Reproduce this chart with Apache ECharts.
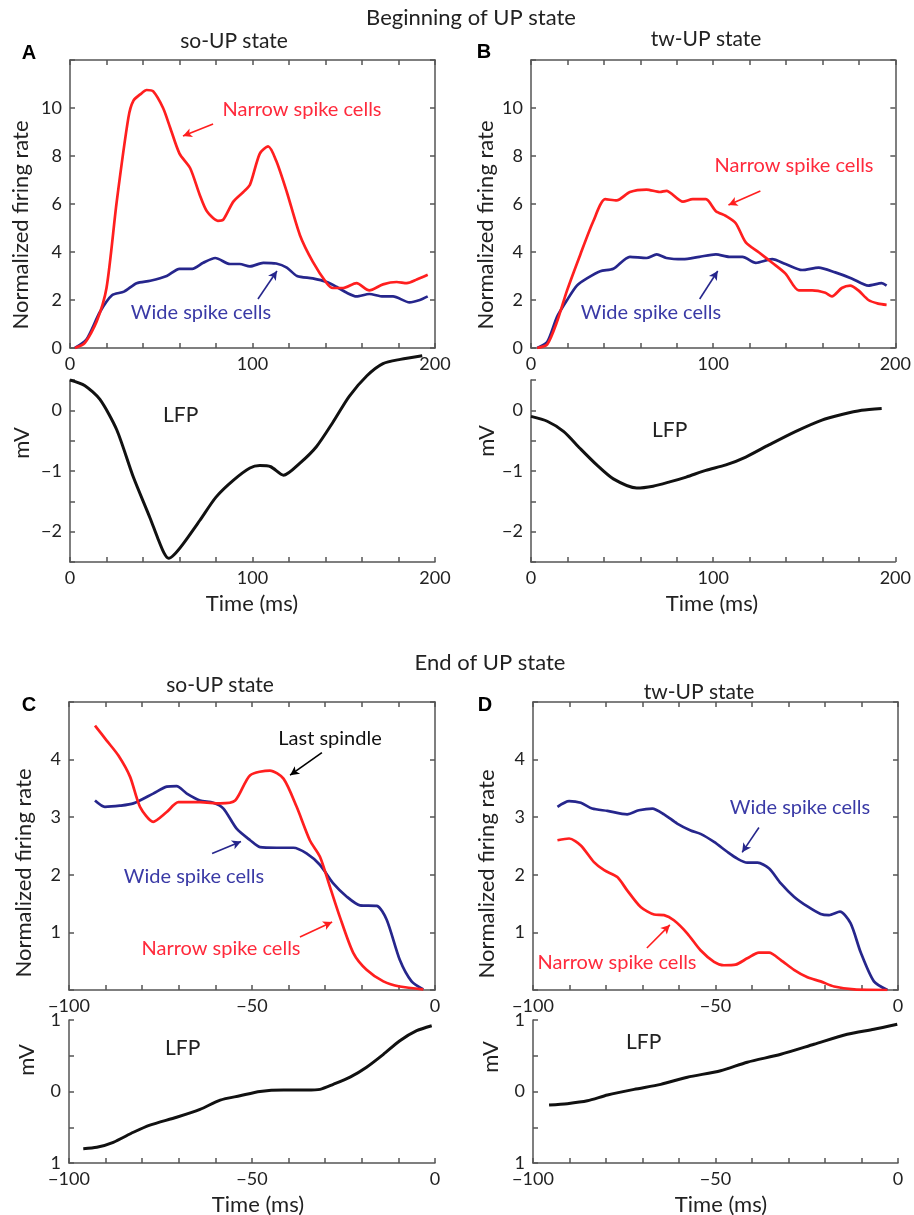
<!DOCTYPE html>
<html>
<head>
<meta charset="utf-8">
<script src="https://cdn.jsdelivr.net/npm/echarts@6/dist/echarts.min.js"></script>
<style>
html,body{margin:0;padding:0;background:#fff;}
#chart{width:914px;height:1215px;}
</style>
</head>
<body>
<div id="chart"></div>
<script>
// ---------- DATA ----------
// Panel A (so-UP, beginning)
const tNarrowA = [2.7, 8, 14.6, 20, 25.6, 32, 34.7, 39, 42, 45.5, 51, 54.8, 60, 65.8, 71, 75, 81, 84, 89.5, 95, 98.6, 104, 108.6, 113, 118.8, 126, 133, 140.7, 144, 149.6, 157, 164, 171.5, 179, 184.6, 190, 196];
const vNarrowA = [0, 0.2, 1.1, 2.5, 6.1, 9.6, 10.3, 10.6, 10.75, 10.7, 10.0, 9.2, 8.1, 7.5, 6.4, 5.7, 5.3, 5.35, 6.1, 6.5, 6.8, 8.1, 8.4, 7.8, 6.5, 4.7, 3.6, 2.7, 2.5, 2.5, 2.7, 2.4, 2.65, 2.75, 2.7, 2.85, 3.05];
const tWideA = [2.7, 9, 16.4, 23, 29.6, 36.5, 44, 53, 60, 67, 73, 79.6, 87.7, 93, 98.6, 105.9, 113, 118.8, 124.4, 133, 140.7, 146, 151.7, 157, 164, 171.5, 177, 186, 191.7, 196];
const vWideA = [0, 0.35, 1.5, 2.2, 2.35, 2.7, 2.8, 3.0, 3.3, 3.3, 3.55, 3.75, 3.5, 3.5, 3.4, 3.55, 3.52, 3.35, 3.0, 2.9, 2.75, 2.55, 2.3, 2.15, 2.25, 2.15, 2.15, 1.9, 2.0, 2.15];
const tLfpA = [0, 8, 16.4, 25.6, 34.7, 43.8, 48, 51.5, 54, 57, 62, 71, 80, 89.6, 98.6, 104, 110, 117, 126, 135, 144, 153, 162.7, 171.5, 181, 193];
const vLfpA = [0.5, 0.41, 0.18, -0.32, -1.1, -1.77, -2.1, -2.35, -2.44, -2.38, -2.2, -1.82, -1.43, -1.15, -0.95, -0.91, -0.93, -1.07, -0.87, -0.6, -0.2, 0.23, 0.57, 0.77, 0.84, 0.9];
// Panel B (tw-UP, beginning)
const tNarrowB = [3.4, 8.9, 14.3, 19.8, 27.1, 34.3, 40.7, 47, 54.3, 63.4, 70.7, 74.3, 83.4, 88.8, 96, 101.5, 107, 112.4, 117.9, 125.2, 132.4, 139.7, 147, 154.3, 161.6, 165.2, 170.6, 175.2, 179.7, 185.2, 190.6, 195.2];
const vNarrowB = [0, 0.15, 1.1, 2.4, 3.9, 5.3, 6.2, 6.15, 6.5, 6.6, 6.5, 6.55, 6.1, 6.2, 6.2, 5.7, 5.5, 5.2, 4.4, 3.98, 3.55, 3.1, 2.4, 2.4, 2.3, 2.15, 2.5, 2.6, 2.4, 2.0, 1.85, 1.8];
const tWideB = [3.4, 8.9, 14.3, 19.8, 25.2, 30.7, 38, 45.2, 54.3, 63.4, 69, 74.3, 83.4, 92.4, 101.5, 108.8, 116.1, 123.4, 132.4, 139.7, 148.8, 157.9, 167, 176, 185.2, 192.5, 195.2];
const vWideB = [0, 0.25, 1.3, 2.0, 2.6, 2.9, 3.2, 3.3, 3.8, 3.75, 3.9, 3.75, 3.7, 3.8, 3.9, 3.8, 3.8, 3.55, 3.7, 3.5, 3.25, 3.35, 3.15, 2.9, 2.6, 2.7, 2.6];
const tLfpB = [0, 8.9, 18, 27, 36.1, 45.2, 58, 67, 76.1, 85.2, 96, 107, 117.9, 130.6, 145.1, 159.7, 170.6, 181.5, 192.5];
const vLfpB = [-0.1, -0.18, -0.35, -0.63, -0.9, -1.13, -1.28, -1.25, -1.18, -1.1, -0.99, -0.9, -0.77, -0.57, -0.35, -0.16, -0.07, 0.0, 0.03];
// Panel C (so-UP, end)
const tNarrowC = [-92.9, -89.7, -86.5, -83.3, -80.6, -77, -73.3, -70.1, -64.2, -58.7, -54.6, -50.5, -45.1, -41.4, -37.8, -34.2, -31.4, -28.7, -26, -22.3, -18.7, -14.1, -9.6, -3.2];
const vNarrowC = [4.59, 4.33, 4.07, 3.7, 3.18, 2.92, 3.09, 3.26, 3.26, 3.24, 3.29, 3.73, 3.81, 3.67, 3.18, 2.6, 2.31, 1.79, 1.27, 0.64, 0.35, 0.15, 0.06, 0.01];
const tWideC = [-92.9, -90.2, -86.1, -82.4, -77, -73.3, -70.6, -67.8, -64.2, -60.6, -57.8, -54.2, -50.5, -47.8, -43.3, -38.7, -35.1, -31.4, -27.8, -24.1, -20.5, -15.9, -13.2, -9.6, -6.4, -3.2];
const vWideC = [3.29, 3.18, 3.2, 3.24, 3.41, 3.53, 3.54, 3.41, 3.29, 3.25, 3.15, 2.8, 2.6, 2.48, 2.47, 2.47, 2.37, 2.17, 1.85, 1.62, 1.47, 1.46, 1.22, 0.52, 0.15, 0.01];
const tLfpC = [-96.1, -92.4, -87.9, -82.4, -77.9, -70.6, -64.2, -58.7, -53.3, -47.8, -41.4, -35.1, -31.4, -27.8, -23.2, -18.7, -14.1, -9.6, -5, -0.9];
const vLfpC = [-0.8, -0.78, -0.71, -0.57, -0.47, -0.36, -0.25, -0.12, -0.06, 0.0, 0.02, 0.02, 0.03, 0.1, 0.2, 0.34, 0.52, 0.71, 0.85, 0.92];
// Panel D (tw-UP, end)
const tNarrowD = [-93.3, -90.1, -86.9, -83.3, -80.5, -76.9, -74.2, -70.5, -66.8, -64.1, -61.4, -57.7, -54.1, -50.4, -47.7, -44.5, -41.3, -38.1, -35.3, -32.1, -28.5, -24.8, -21.2, -17.5, -12, -2.9];
const vNarrowD = [2.6, 2.63, 2.51, 2.22, 2.08, 1.96, 1.73, 1.44, 1.31, 1.3, 1.21, 0.98, 0.69, 0.49, 0.43, 0.44, 0.55, 0.65, 0.65, 0.52, 0.35, 0.22, 0.15, 0.06, 0.01, 0];
const tWideD = [-93.3, -90.1, -86.9, -83.8, -79.6, -74.2, -71, -67.3, -64.1, -60.5, -56.8, -54.1, -50.4, -46.8, -44, -41.3, -38.5, -35.3, -32.1, -28.5, -24.8, -21.2, -18.9, -15.9, -13, -10.2, -6.6, -2.9];
const vWideD = [3.18, 3.28, 3.25, 3.15, 3.11, 3.05, 3.12, 3.15, 3.05, 2.89, 2.77, 2.71, 2.57, 2.4, 2.28, 2.21, 2.21, 2.11, 1.85, 1.62, 1.45, 1.32, 1.3, 1.36, 1.16, 0.65, 0.15, 0.0];
const tLfpD = [-95.6, -90.6, -85.1, -79.6, -72.3, -65, -57.7, -48.6, -41.3, -32.1, -23, -13.9, -6.6, -0.2];
const vLfpD = [-0.19, -0.17, -0.13, -0.05, 0.03, 0.1, 0.2, 0.29, 0.41, 0.52, 0.66, 0.8, 0.87, 0.94];

// Tick label sets
const beginTimeLabels = [0, 100, 200];
const endTimeLabels = [-100, -50, 0];
const rateLabelsBegin = [0, 2, 4, 6, 8, 10];
const rateLabelsEnd = [1, 2, 3, 4];
const lfpLabelsBegin = [-2, -1, 0];
const lfpLabelsEnd = [-1, 0, 1];

// ---------- STYLE ----------
const RED = '#ff1f1f', BLUE = '#26268c', BLACK = '#111';
const RED_TXT = '#ff2a3c', BLUE_TXT = '#3a3aa6';
const FONT = 'Lato';
const AX = '#555';
const TICK_FS = 18;
const zip = (t, v) => t.map((x, i) => [x, v[i]]);
const fmtNum = v => String(v).replace('-', '\u2212');

const grids = [
  {left: 70, top: 60, width: 365, height: 288},   // A rate
  {left: 70, top: 380, width: 365, height: 182},  // A lfp
  {left: 531, top: 60, width: 367, height: 288},  // B rate
  {left: 531, top: 380, width: 367, height: 182}, // B lfp
  {left: 69, top: 702, width: 366, height: 288},  // C rate
  {left: 69, top: 1020, width: 366, height: 143}, // C lfp
  {left: 533, top: 702, width: 365, height: 288}, // D rate
  {left: 533, top: 1020, width: 365, height: 143} // D lfp
];

const lineStyle = {color: AX, width: 1.5};
function xAx(g, min, max, interval, labels, pos, showLabel) {
  return {
    type: 'value', gridIndex: g, min, max, interval, position: pos,
    axisLine: {show: true, onZero: false, lineStyle},
    axisTick: {show: true, inside: true, length: 5, lineStyle},
    splitLine: {show: false},
    axisLabel: {show: showLabel, color: '#222', fontFamily: FONT, fontSize: TICK_FS, margin: 7,
      formatter: v => labels.includes(v) ? fmtNum(v) : ''}
  };
}
function yAx(g, min, max, interval, labels, pos, showLabel, absLabel) {
  return {
    type: 'value', gridIndex: g, min, max, interval, position: pos,
    axisLine: {show: true, onZero: false, lineStyle},
    axisTick: {show: true, inside: true, length: 5, lineStyle},
    splitLine: {show: false},
    axisLabel: {show: showLabel, color: '#222', fontFamily: FONT, fontSize: TICK_FS, margin: 8,
      formatter: v => labels.includes(v) ? (absLabel ? String(Math.abs(v)) : fmtNum(v)) : ''}
  };
}

const xAxis = [], yAxis = [];
// A
xAxis.push(xAx(0, 0, 200, 20, beginTimeLabels, 'bottom', true));   //0
xAxis.push(xAx(0, 0, 200, 20, [], 'top', false));                  //1
xAxis.push(xAx(1, 0, 200, 20, beginTimeLabels, 'bottom', true));   //2
yAxis.push(yAx(0, 0, 12, 2, rateLabelsBegin, 'left', true));       //0
yAxis.push(yAx(0, 0, 12, 2, [], 'right', false));                  //1
yAxis.push(yAx(1, -2.5, 0.5, 0.5, lfpLabelsBegin, 'left', true));  //2
// B
xAxis.push(xAx(2, 0, 200, 20, beginTimeLabels, 'bottom', true));   //3
xAxis.push(xAx(2, 0, 200, 20, [], 'top', false));                  //4
xAxis.push(xAx(3, 0, 200, 20, beginTimeLabels, 'bottom', true));   //5
yAxis.push(yAx(2, 0, 12, 2, rateLabelsBegin, 'left', true));       //3
yAxis.push(yAx(2, 0, 12, 2, [], 'right', false));                  //4
yAxis.push(yAx(3, -2.5, 0.5, 0.5, lfpLabelsBegin, 'left', true));  //5
// C
xAxis.push(xAx(4, -100, 0, 10, endTimeLabels, 'bottom', true));    //6
xAxis.push(xAx(4, -100, 0, 10, [], 'top', false));                 //7
xAxis.push(xAx(5, -100, 0, 10, endTimeLabels, 'bottom', true));    //8
yAxis.push(yAx(4, 0, 5, 1, rateLabelsEnd, 'left', true));          //6
yAxis.push(yAx(4, 0, 5, 1, [], 'right', false));                   //7
yAxis.push(yAx(5, -1, 1, 0.5, lfpLabelsEnd, 'left', true, true));  //8
// D
xAxis.push(xAx(6, -100, 0, 10, endTimeLabels, 'bottom', true));    //9
xAxis.push(xAx(6, -100, 0, 10, [], 'top', false));                 //10
xAxis.push(xAx(7, -100, 0, 10, endTimeLabels, 'bottom', true));    //11
yAxis.push(yAx(6, 0, 5, 1, rateLabelsEnd, 'left', true));          //9
yAxis.push(yAx(6, 0, 5, 1, [], 'right', false));                   //10
yAxis.push(yAx(7, -1, 1, 0.5, lfpLabelsEnd, 'left', true, true));  //11

function arrow(p1, p2, color) {
  return [{coord: p1, lineStyle: {color, width: 1.6, type: 'solid'}}, {coord: p2}];
}
function line(name, xi, yi, data, color, width, arrows, clip) {
  const s = {
    name, type: 'line', xAxisIndex: xi, yAxisIndex: yi, data,
    showSymbol: false, smooth: 0.25, clip: clip !== false,
    lineStyle: {color, width}, itemStyle: {color}, animation: false
  };
  if (arrows) {
    s.markLine = {
      silent: true, symbol: ['none', 'arrow'], symbolSize: [7, 9],
      label: {show: false}, animation: false,
      data: arrows
    };
  }
  return s;
}

const series = [
  line('Wide A', 0, 0, zip(tWideA, vWideA), BLUE, 2.7, [arrow([103, 2.04], [113.4, 3.21], BLUE)]),
  line('Narrow A', 0, 0, zip(tNarrowA, vNarrowA), RED, 2.7, [arrow([78.4, 9.33], [61.9, 8.83], RED)]),
  line('LFP A', 2, 2, zip(tLfpA, vLfpA), BLACK, 3, null, false),
  line('Wide B', 3, 3, zip(tWideB, vWideB), BLUE, 2.7, [arrow([92.6, 2.04], [102.5, 3.21], BLUE)]),
  line('Narrow B', 3, 3, zip(tNarrowB, vNarrowB), RED, 2.7, [arrow([125.9, 6.54], [108.4, 5.96], RED)]),
  line('LFP B', 5, 5, zip(tLfpB, vLfpB), BLACK, 3),
  line('Wide C', 6, 6, zip(tWideC, vWideC), BLUE, 2.7, [arrow([-60.9, 2.37], [-53, 2.58], BLUE)]),
  line('Narrow C', 6, 6, zip(tNarrowC, vNarrowC), RED, 2.7, [arrow([-36.9, 0.92], [-28.1, 1.18], RED), arrow([-30.9, 4.12], [-39.6, 3.73], '#000')]),
  line('LFP C', 8, 8, zip(tLfpC, vLfpC), BLACK, 3),
  line('Wide D', 9, 9, zip(tWideD, vWideD), BLUE, 2.7, [arrow([-38.1, 2.82], [-42.7, 2.39], BLUE)]),
  line('Narrow D', 9, 9, zip(tNarrowD, vNarrowD), RED, 2.7, [arrow([-68.8, 0.73], [-62.5, 1.13], RED)]),
  line('LFP D', 11, 11, zip(tLfpD, vLfpD), BLACK, 3)
];

function txt(text, x, y, opts) {
  opts = opts || {};
  return {
    type: 'text', x, y, rotation: opts.rot || 0, silent: true, z: 100,
    style: {
      text, fill: opts.color || '#222',
      font: (opts.weight || 'normal') + ' ' + (opts.size || 17) + 'px ' + (opts.family || FONT),
      align: opts.align || 'center', verticalAlign: 'middle'
    }
  };
}
const R = Math.PI / 2;
const TT = 22, AN = 20, NM = 22, LT = 20;
const bold = {size: LT, weight: 'bold', family: 'Liberation Sans', color: '#000'};
const graphic = [
  txt('Beginning of UP state', 471, 18, {size: TT}),
  txt('so-UP state', 234, 41, {size: 21}),
  txt('tw-UP state', 706, 39, {size: 21}),
  txt('A', 29, 53, bold),
  txt('B', 484, 52, bold),
  txt('End of UP state', 490, 663, {size: TT}),
  txt('so-UP state', 220, 685, {size: 21}),
  txt('tw-UP state', 699, 692, {size: 21}),
  txt('C', 29, 705, bold),
  txt('D', 485, 705, bold),
  txt('Normalized firing rate', 21, 225, {rot: R, size: NM}),
  txt('Normalized firing rate', 486, 225, {rot: R, size: NM}),
  txt('Normalized firing rate', 24, 873, {rot: R, size: NM}),
  txt('Normalized firing rate', 487, 874, {rot: R, size: NM}),
  txt('mV', 22, 443, {rot: R, size: NM}),
  txt('mV', 487, 441, {rot: R, size: NM}),
  txt('mV', 27, 1060, {rot: R, size: NM}),
  txt('mV', 491, 1057, {rot: R, size: NM}),
  txt('Time (ms)', 252, 604, {size: TT}),
  txt('Time (ms)', 712, 604, {size: TT}),
  txt('Time (ms)', 258, 1205, {size: TT}),
  txt('Time (ms)', 721, 1205, {size: TT}),
  txt('LFP', 163, 415, {size: 21, align: 'left'}),
  txt('LFP', 652, 430, {size: 21, align: 'left'}),
  txt('LFP', 165, 1048, {size: 21, align: 'left'}),
  txt('LFP', 626, 1042, {size: 21, align: 'left'}),
  txt('Narrow spike cells', 302, 110, {color: RED_TXT, size: AN}),
  txt('Wide spike cells', 201, 313, {color: BLUE_TXT, size: AN}),
  txt('Narrow spike cells', 794, 166, {color: RED_TXT, size: AN}),
  txt('Wide spike cells', 651, 313, {color: BLUE_TXT, size: AN}),
  txt('Last spindle', 330, 739, {color: '#111', size: AN}),
  txt('Wide spike cells', 194, 877, {color: BLUE_TXT, size: AN}),
  txt('Narrow spike cells', 221, 949, {color: RED_TXT, size: AN}),
  txt('Wide spike cells', 800, 808, {color: BLUE_TXT, size: AN}),
  txt('Narrow spike cells', 617, 963, {color: RED_TXT, size: AN})
];

const chart = echarts.init(document.getElementById('chart'), null, {renderer: 'canvas'});
chart.setOption({
  backgroundColor: '#fff',
  animation: false,
  grid: grids,
  xAxis, yAxis, series, graphic
});
</script>
</body>
</html>
